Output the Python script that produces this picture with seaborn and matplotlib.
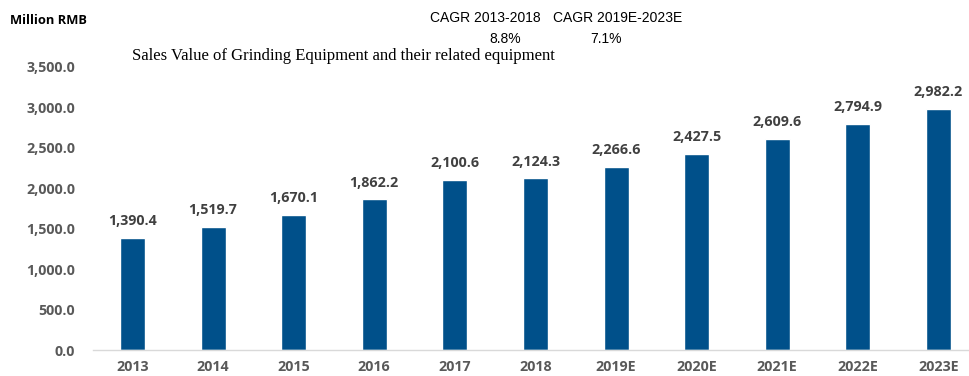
import matplotlib
matplotlib.use("Agg")
import matplotlib.pyplot as plt
import seaborn as sns
import pandas as pd
from matplotlib.ticker import FuncFormatter

years = ["2013", "2014", "2015", "2016", "2017", "2018",
         "2019E", "2020E", "2021E", "2022E", "2023E"]
values = [1390.4, 1519.7, 1670.1, 1862.2, 2100.6, 2124.3,
          2266.6, 2427.5, 2609.6, 2794.9, 2982.2]
yticks = [0, 500, 1000, 1500, 2000, 2500, 3000, 3500]
cagr_labels = ["CAGR 2013-2018", "CAGR 2019E-2023E"]
cagr_values = ["8.8%", "7.1%"]

df = pd.DataFrame({"year": years, "value": values})

sns.set_theme(style="white")
plt.rcParams['font.family'] = ['Open Sans', 'DejaVu Sans']

W, H = 969, 376
fig = plt.figure(figsize=(W / 100, H / 100), dpi=100)
ax_left, ax_right = 93, 969
ax_bot, ax_top = 350, 67
ax = fig.add_axes([ax_left / W, (H - ax_bot) / H,
                   (ax_right - ax_left) / W, (ax_bot - ax_top) / H])

bar_color = "#00508A"
sns.barplot(data=df, x="year", y="value", color=bar_color, width=0.31,
            saturation=1, ax=ax)
ax.set_xlim(-0.49, 10.38)
ax.set_ylim(0, 3500)
ax.set_yticks(yticks)
ax.yaxis.set_major_formatter(FuncFormatter(lambda v, p: f"{v:,.1f}"))
ax.set_xlabel("")
ax.set_ylabel("")

for c in ax.containers:
    ax.bar_label(c, labels=[f"{v:,.1f}" for v in values], padding=7,
                 fontsize=10.3, fontweight="bold", color="#404040")

for s in ["top", "right", "left"]:
    ax.spines[s].set_visible(False)
ax.spines["bottom"].set_color("#D9D9D9")
ax.spines["bottom"].set_linewidth(1.0)
ax.tick_params(axis="y", length=0, pad=13, labelsize=10.3, labelcolor="#595959")
ax.tick_params(axis="x", length=0, pad=7, labelsize=10.3, labelcolor="#595959")
for lbl in ax.get_xticklabels() + ax.get_yticklabels():
    lbl.set_fontweight("bold")

fig.text(10 / W, 1 - 21 / H, "Million RMB", fontsize=9.3, fontweight="bold",
         color="black", ha="left", va="center")
fig.text(132 / W, 1 - 56 / H,
         "Sales Value of Grinding Equipment and their related equipment",
         family=["Liberation Serif", "DejaVu Serif"], fontsize=12,
         color="black", ha="left", va="center")

cagr_x = [485, 618]
pct_x = [505, 606]
for lab, px, val, vx in zip(cagr_labels, cagr_x, cagr_values, pct_x):
    fig.text(px / W, 1 - 18 / H, lab, family=["Liberation Sans", "DejaVu Sans"],
             fontsize=10, color="black", ha="center", va="center")
    fig.text(vx / W, 1 - 39 / H, val, family=["Liberation Sans", "DejaVu Sans"],
             fontsize=10, color="black", ha="center", va="center")

fig.savefig("out.png", dpi=100)
